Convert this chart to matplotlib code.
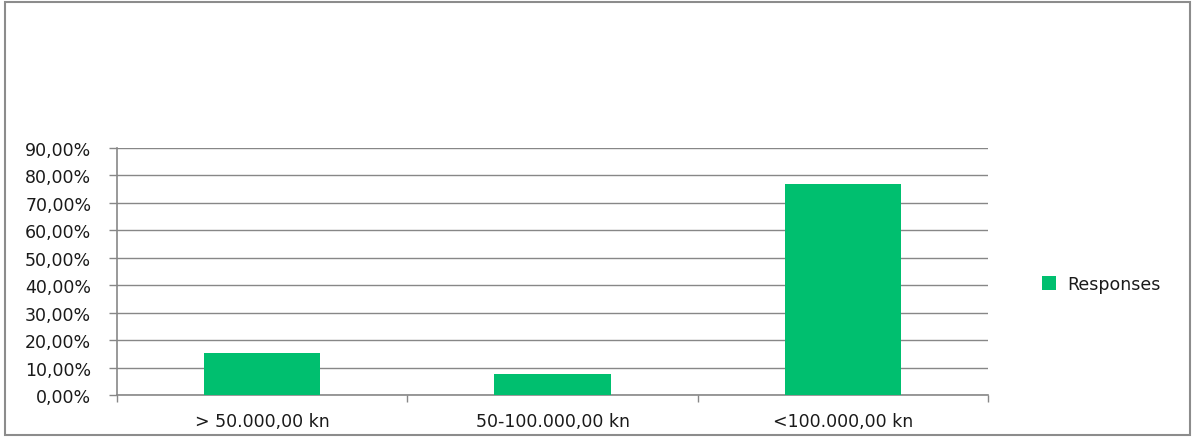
import matplotlib
matplotlib.use("Agg")
import matplotlib.pyplot as plt
from matplotlib.patches import Rectangle
from matplotlib.ticker import FuncFormatter

categories = ["> 50.000,00 kn", "50-100.000,00 kn", "<100.000,00 kn"]
values = [15.38, 7.69, 76.92]
series_name = "Responses"
yticks = [0, 10, 20, 30, 40, 50, 60, 70, 80, 90]

W, H = 1195, 439
plt.rcParams['font.family'] = ['DejaVu Sans']
fig = plt.figure(figsize=(W / 100, H / 100), dpi=100)

# outer chart border
fig.patches.append(Rectangle((5 / W, 3 / H), (1190 - 5) / W, (436 - 3) / H,
                             transform=fig.transFigure, fill=False,
                             edgecolor="#8c8c8c", linewidth=1.5))

x0, x1 = 117, 988
y0, y1 = 396, 149
ax = fig.add_axes([x0 / W, (H - y0) / H, (x1 - x0) / W, (y0 - y1) / H])

green = "#00BF6F"
pos = list(range(len(categories)))
bars = ax.bar(pos, values, width=0.4, color=green, label=series_name, zorder=3)

ax.set_xlim(-0.5, len(categories) - 0.5)
ax.set_ylim(0, 90)
ax.set_yticks(yticks)
ax.yaxis.set_major_formatter(FuncFormatter(lambda v, p: f"{v:.2f}".replace(".", ",") + "%"))
ax.yaxis.grid(True, color="#878787", linewidth=1.0, zorder=0)
ax.set_axisbelow(True)

ax.set_xticks(pos)
ax.set_xticklabels(categories, fontsize=12.5, color="#1a1a1a")
ax.tick_params(axis="x", length=0, pad=12)
ax.set_xticks([i + 0.5 for i in range(-1, len(categories))], minor=True)
ax.tick_params(axis="x", which="minor", length=5, color="#878787", width=1.0)
ax.tick_params(axis="y", length=5.5, color="#878787", width=1.0, labelsize=12.5,
               pad=13, labelcolor="#1a1a1a")

for s in ["top", "right"]:
    ax.spines[s].set_visible(False)
for s in ["left", "bottom"]:
    ax.spines[s].set_color("#878787")
    ax.spines[s].set_linewidth(1.2)

leg = fig.legend(handles=[bars], labels=[series_name], loc="center left",
                 bbox_to_anchor=(1026 / W, (H - 285) / H), frameon=False,
                 fontsize=12.5, handlelength=0.8, handleheight=0.8, handletextpad=0.7)
for t in leg.get_texts():
    t.set_color("#1a1a1a")

fig.savefig("out.png", dpi=100, facecolor="white")
